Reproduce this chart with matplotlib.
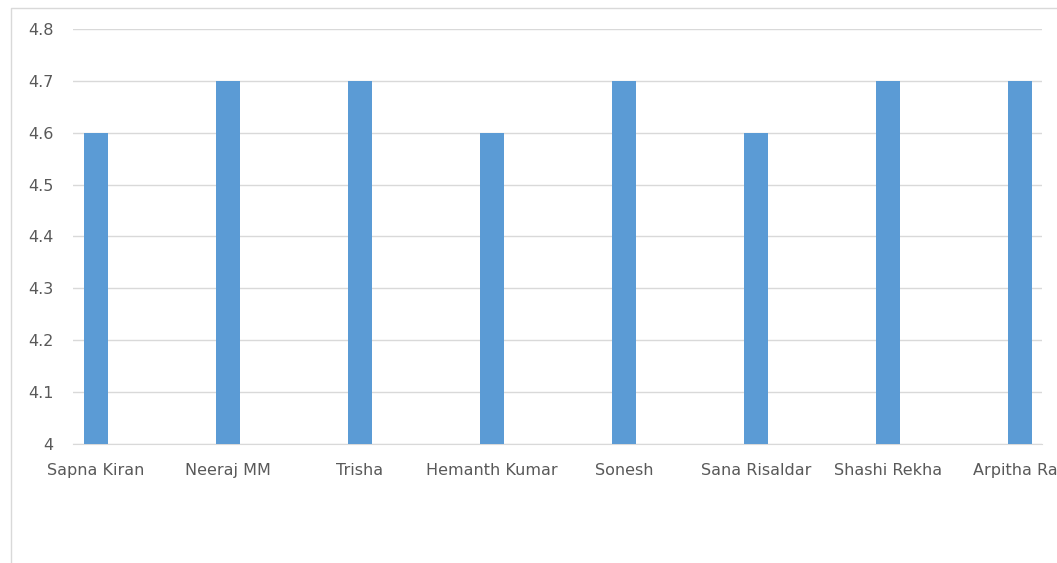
import matplotlib.pyplot as plt
from matplotlib.lines import Line2D
import numpy as np

# Data
names = ['Sapna Kiran', 'Neeraj MM', 'Trisha', 'Hemanth Kumar', 'Sonesh',
         'Sana Risaldar', 'Shashi Rekha', 'Arpitha Rao']
ratings = [4.6, 4.7, 4.7, 4.6, 4.7, 4.6, 4.7, 4.7]
y_ticks = [4.0, 4.1, 4.2, 4.3, 4.4, 4.5, 4.6, 4.7, 4.8]
y_labels = ['4', '4.1', '4.2', '4.3', '4.4', '4.5', '4.6', '4.7', '4.8']

W, H = 1057, 563
fig = plt.figure(figsize=(W / 100, H / 100), dpi=100)
ax = fig.add_axes([73 / W, 119 / H, (1042 - 73) / W, (444 - 29) / H])

x = np.arange(len(names))
ax.bar(x, ratings, width=0.175, color='#5b9bd5', zorder=3)

ax.set_ylim(4.0, 4.8)
ax.set_xlim(-0.174, 7.167)
ax.set_yticks(y_ticks)
ax.set_yticklabels(y_labels)
ax.set_xticks(x)
ax.set_xticklabels(names)
ax.yaxis.grid(True, color='#d9d9d9', linewidth=1)
ax.tick_params(length=0, colors='#595959', labelsize=11.5)
ax.tick_params(axis='x', pad=13.5)
ax.tick_params(axis='y', pad=14)
for side in ['top', 'right', 'left']:
    ax.spines[side].set_visible(False)
ax.spines['bottom'].set_color('#d9d9d9')

# Chart border (cropped on right and bottom)
fig.add_artist(Line2D([10.5 / W, 10.5 / W, 1.0], [0.0, 1 - 7.5 / H, 1 - 7.5 / H],
                      transform=fig.transFigure, color='#d9d9d9', linewidth=1))

fig.savefig('out.png', dpi=100)
